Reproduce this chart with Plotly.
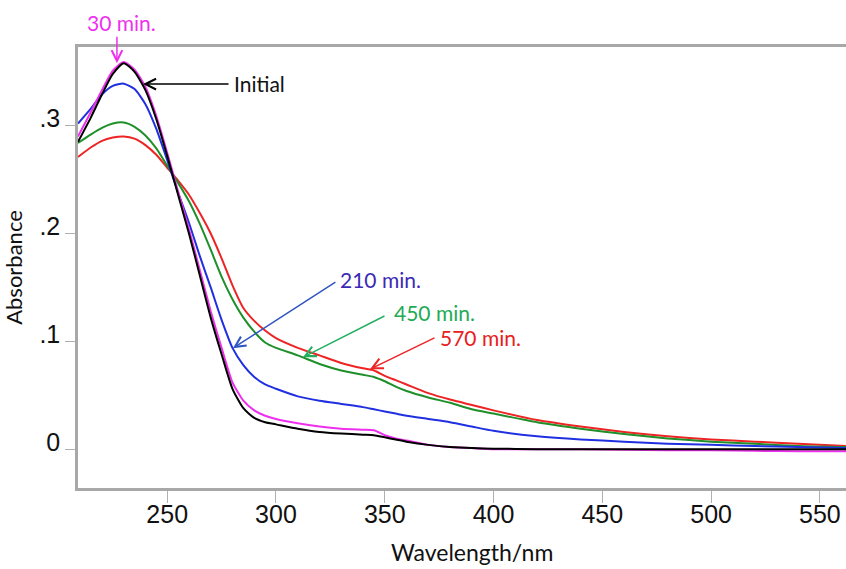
import plotly.graph_objects as go

# ---- data ----
wavelength = [209, 215, 220, 225, 230, 235, 240, 245, 250, 255, 260, 265, 270, 275, 280,
              285, 290, 295, 300, 310, 320, 330, 340, 345, 350, 355, 360, 370, 380, 390,
              400, 420, 440, 460, 480, 500, 520, 540, 562]

initial = [0.285, 0.308, 0.329, 0.348, 0.358, 0.350, 0.333, 0.306, 0.272, 0.236, 0.200, 0.161,
           0.122, 0.088, 0.056, 0.038, 0.029, 0.025, 0.023, 0.019, 0.016, 0.0145, 0.0135, 0.013,
           0.011, 0.009, 0.007, 0.004, 0.002, 0.001, 0.0005, 0.0, 0.0, 0.0, 0.0, 0.0, 0.0, 0.0, 0.0]

min30 = [0.290, 0.313, 0.333, 0.351, 0.359, 0.352, 0.336, 0.309, 0.275, 0.239, 0.204, 0.166,
         0.128, 0.094, 0.062, 0.045, 0.036, 0.031, 0.028, 0.024, 0.021, 0.019, 0.018, 0.0175,
         0.013, 0.010, 0.008, 0.004, 0.002, 0.001, 0.0, 0.0, 0.0, -0.0005, -0.001, -0.001,
         -0.0015, -0.002, -0.002]

min210 = [0.302, 0.316, 0.329, 0.337, 0.339, 0.334, 0.320, 0.297, 0.268, 0.238, 0.210, 0.179,
          0.150, 0.120, 0.094, 0.078, 0.067, 0.060, 0.056, 0.049, 0.045, 0.042, 0.039, 0.037,
          0.035, 0.033, 0.031, 0.028, 0.025, 0.021, 0.017, 0.012, 0.009, 0.007, 0.005, 0.004,
          0.003, 0.002, 0.001]

min450 = [0.284, 0.292, 0.298, 0.302, 0.303, 0.299, 0.291, 0.279, 0.263, 0.247, 0.230, 0.209,
          0.185, 0.160, 0.139, 0.122, 0.109, 0.099, 0.094, 0.087, 0.079, 0.073, 0.069, 0.067,
          0.063, 0.058, 0.054, 0.048, 0.043, 0.037, 0.033, 0.025, 0.019, 0.014, 0.010, 0.007,
          0.005, 0.003, 0.002]

min570 = [0.271, 0.280, 0.286, 0.289, 0.290, 0.288, 0.282, 0.273, 0.261, 0.249, 0.236, 0.219,
          0.200, 0.177, 0.152, 0.131, 0.119, 0.110, 0.103, 0.094, 0.087, 0.080, 0.075, 0.073,
          0.068, 0.064, 0.060, 0.052, 0.046, 0.041, 0.036, 0.027, 0.021, 0.016, 0.012, 0.009,
          0.007, 0.005, 0.003]

series_names = ["570 min.", "450 min.", "210 min.", "30 min.", "Initial"]
series_values = [min570, min450, min210, min30, initial]
series_colors = ["#ee2424", "#1f8f2a", "#2030e0", "#ee30ee", "#000000"]

x_ticks = [250, 300, 350, 400, 450, 500, 550]
y_ticks = [0, 0.1, 0.2, 0.3]
y_ticktext = ["0", ".1", ".2", ".3"]
x_title = "Wavelength/nm"
y_title = "Absorbance"

# annotations: label, arrow tip (x, y), tail offset in px, label position, colours
arrow_tips = [(226.9, 0.358), (238.9, 0.3386), (280.2, 0.0937), (312.4, 0.0853), (343.2, 0.0742)]
arrow_offsets = [(0, -28), (87, 0), (104, -67), (83, -42), (66, -32)]
arrow_colors = ["#ee30ee", "#000000", "#3055c0", "#22b060", "#ee2424"]
label_texts = ["30 min.", "Initial", "210 min.", "450 min.", "570 min."]
label_colors = ["#ee30ee", "#111111", "#3b2ab5", "#22aa55", "#e82020"]
label_refs = ["paper", "data", "data", "data", "data"]
label_pos = [(0.056, 1.056), (279.8, 0.3395), (328.5, 0.1577), (353.3, 0.127), (374.5, 0.1039)]

fig = go.Figure()
for name, vals, col in zip(series_names, series_values, series_colors):
    fig.add_trace(go.Scatter(x=wavelength, y=vals, mode="lines", name=name,
                             line=dict(color=col, width=2, shape="spline", smoothing=0.6)))

anns = []
for (tx, ty), (ax, ay), col in zip(arrow_tips, arrow_offsets, arrow_colors):
    anns.append(dict(x=tx, y=ty, xref="x", yref="y", ax=ax, ay=ay, axref="pixel", ayref="pixel",
                     text="", showarrow=True, arrowhead=5, arrowsize=1.4, arrowwidth=1.5,
                     arrowcolor=col))
for txt, col, ref, (lx, ly) in zip(label_texts, label_colors, label_refs, label_pos):
    anns.append(dict(x=lx, y=ly,
                     xref="paper" if ref == "paper" else "x",
                     yref="paper" if ref == "paper" else "y",
                     text=txt, showarrow=False,
                     xanchor="center" if ref == "paper" else "left", yanchor="middle",
                     font=dict(family="Lato", size=21, color=col)))
# x-axis title placed as a paper annotation to match the reference offset
anns.append(dict(x=0.513, y=-0.146, xref="paper", yref="paper", text=x_title, showarrow=False,
                 xanchor="center", yanchor="middle",
                 font=dict(family="Lato", size=23, color="#111111")))

fig.update_layout(
    width=846, height=569,
    margin=dict(l=78, r=0, t=47, b=81),
    plot_bgcolor="white", paper_bgcolor="white",
    showlegend=False,
    annotations=anns,
    xaxis=dict(range=[209, 562], tickvals=x_ticks, ticks="outside", ticklen=12,
               tickcolor="#b0b0b0", tickwidth=1, showline=True, linecolor="#a8a8a8",
               linewidth=2.5, mirror=True, showgrid=False, zeroline=False,
               tickfont=dict(family="Liberation Sans", size=25, color="#111111"),
               ticklabelstandoff=-10, automargin=False),
    yaxis=dict(range=[-0.036, 0.373], tickvals=y_ticks, ticktext=y_ticktext, ticks="outside",
               ticklen=10, tickcolor="#b0b0b0", tickwidth=1, showline=True, linecolor="#a8a8a8",
               linewidth=2.5, mirror=False, showgrid=False, zeroline=False,
               tickfont=dict(family="Liberation Sans", size=25, color="#111111"),
               ticklabelshift=-7,
               title=dict(text=y_title, font=dict(family="Lato", size=22, color="#111111"),
                          standoff=14), automargin=False),
)

fig.write_html("out.html")
